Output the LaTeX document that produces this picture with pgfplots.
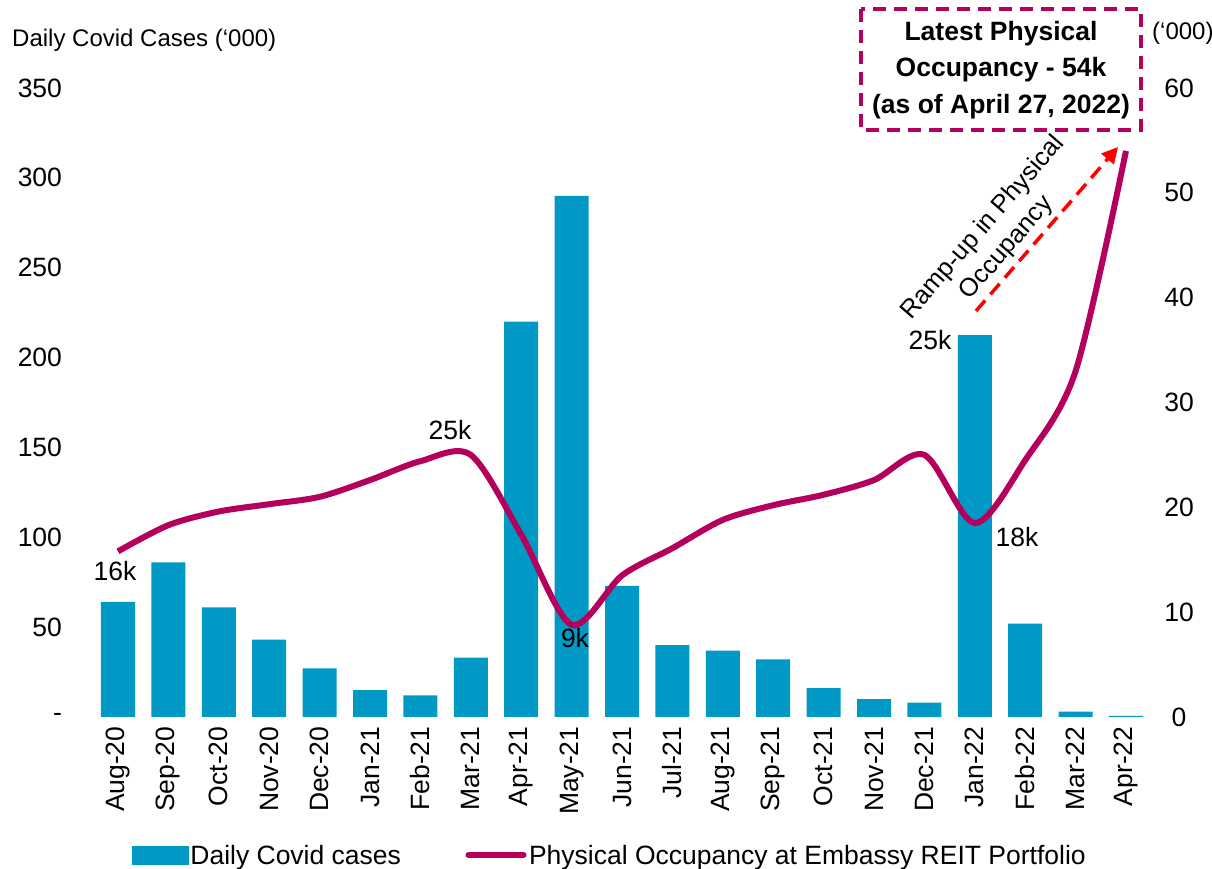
\documentclass[border=0pt]{standalone}
\usepackage{fontspec}
\setmainfont{Liberation Sans}
\usepackage{pgfplots}
\pgfplotsset{compat=1.18}
\usetikzlibrary{arrows.meta}
\definecolor{barblue}{RGB}{0,153,198}
\definecolor{linemag}{RGB}{180,0,92}
\newcommand{\tfont}{\fontsize{26.5}{31}\selectfont}
\begin{document}
\begin{tikzpicture}[x=1pt,y=1pt]
\begin{axis}[
  scale only axis, width=1058.4pt, height=629pt,
  xmin=-0.5, xmax=20.5, ymin=0, ymax=350,
  axis x line*=bottom, axis y line*=left,
  axis line style={draw=none}, tick style={draw=none},
  major tick length=0pt,
  xtick={0,...,20},
  xticklabels={Aug-20,Sep-20,Oct-20,Nov-20,Dec-20,Jan-21,Feb-21,Mar-21,Apr-21,May-21,Jun-21,Jul-21,Aug-21,Sep-21,Oct-21,Nov-21,Dec-21,Jan-22,Feb-22,Mar-22,Apr-22},
  every tick label/.append style={font=\tfont},
  xticklabel style={yshift=-6pt, rotate=90, anchor=east, font=\tfont},
  ytick={0,50,100,150,200,250,300,350},
  yticklabels={-,50,100,150,200,250,300,350},
  yticklabel style={anchor=east, xshift=-27.3pt},
  /pgf/number format/assume math mode=true,
  ybar, bar width=34pt,
  clip=false,
]
\addplot[fill=barblue, draw=none] coordinates {
(0,64) (1,86) (2,61) (3,43) (4,27) (5,15) (6,12) (7,33) (8,220) (9,290)
(10,73) (11,40) (12,37) (13,32) (14,16) (15,10) (16,8) (17,212.5) (18,52) (19,3) (20,0.6)
};
\end{axis}
\begin{axis}[
  scale only axis, width=1058.4pt, height=629pt,
  xmin=-0.5, xmax=20.5, ymin=0, ymax=60,
  axis x line=none, axis y line*=right,
  axis line style={draw=none}, tick style={draw=none},
  major tick length=0pt,
  ytick={0,10,20,30,40,50,60},
  every tick label/.append style={font=\tfont},
  yticklabel style={anchor=center, xshift=27.8pt},
  /pgf/number format/assume math mode=true,
  clip=false,
  legend style={draw=none, at={(0.489,-0.2195)}, anchor=center, legend columns=2,
    font=\tfont, inner sep=0pt,
    /tikz/every even column/.append style={column sep=62pt},
    nodes={inner sep=2.5pt, text depth=0pt}},
  legend cell align=left,
]
\addlegendimage{legend image code/.code={\fill[barblue] (0pt,-9pt) rectangle (55pt,9pt);}}
\addlegendentry{Daily Covid cases}
\addplot[smooth, tension=0.5, color=linemag, line width=6pt,
  legend image code/.code={\draw[linemag, line width=6pt, line cap=round] (0pt,0pt) -- (55pt,0pt);}]
  coordinates {
(0,15.8) (1,18.3) (2,19.6) (3,20.3) (4,21.0) (5,22.6) (6,24.4) (7,25.0) (8,17.4) (9,8.8)
(10,13.5) (11,16.1) (12,18.8) (13,20.2) (14,21.2) (15,22.6) (16,25.0) (17,18.5) (18,24.5) (19,33.0) (20,54.0)
};
\addlegendentry{Physical Occupancy at Embassy REIT Portfolio}
\end{axis}
% annotations (1pt = 1px, origin at plot box lower-left)
\node[anchor=west, font=\fontsize{24}{28}\selectfont, inner sep=0pt] at (-80.8,677) {Daily Covid Cases (‘000)};
\node[anchor=west, font=\fontsize{24}{28}\selectfont, inner sep=0pt] at (1059.2,684) {(‘000)};
\node[font=\tfont] at (22.2,146) {16k};
\node[font=\tfont] at (357.2,287) {25k};
\node[font=\tfont] at (482.2,79) {9k};
\node[font=\tfont] at (837.2,377) {25k};
\node[font=\tfont] at (924.2,180) {18k};
\draw[linemag, line width=4pt, dash pattern=on 13pt off 8pt] (768.2,708) rectangle (1048.2,587);
\node[align=center, font=\fontsize{26.5}{36.5}\selectfont\bfseries] at (908.2,647) {Latest Physical\\Occupancy - 54k\\(as of April 27, 2022)};
\draw[red, line width=3.5pt, dash pattern=on 14pt off 8pt, -{Triangle[length=16pt,width=16pt]}] (883.2,406) -- (1025.2,570);
\node[align=center, rotate=49, font=\fontsize{25.5}{31}\selectfont] at (902.2,479) {Ramp-up in Physical\\Occupancy};
\pgfresetboundingbox
\path[use as bounding box] (-92.8,-152) rectangle (1119.2,717);
\end{tikzpicture}
\end{document}
